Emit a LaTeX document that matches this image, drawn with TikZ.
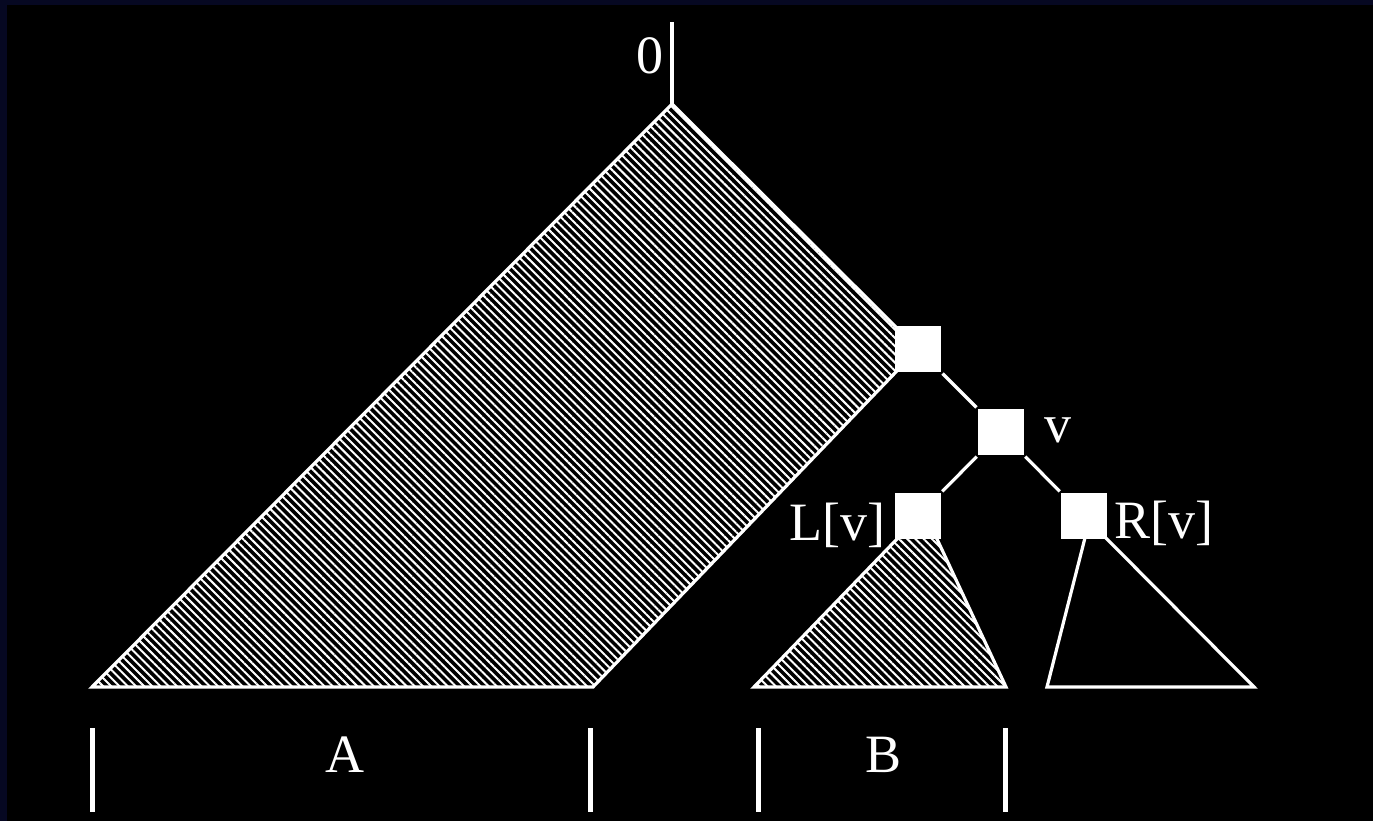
\documentclass[tikz,border=0pt]{standalone}
\usepackage{fontspec}
\setmainfont{Liberation Serif}
\usetikzlibrary{patterns.meta}
\definecolor{slideblue}{RGB}{6,8,34}
\begin{document}
\begin{tikzpicture}[x=.5pt,y=-.5pt,line width=1.6pt,color=white,
  font=\fontsize{27}{32}\selectfont,
  knot/.style={fill=white,minimum size=23pt,inner sep=0pt},
  hatch/.style={pattern={Lines[angle=-45,distance=2.9pt,line width=1pt]},
    pattern color=white}]
  % slide background with its thin blue frame.
  \fill[slideblue] (0,0) rectangle (1373,821);
  \fill[black] (7,5) rectangle (1373,821);
  \useasboundingbox (0,0) rectangle (1373,821);
  % A: big hatched part left of the search path.
  \coordinate (apex) at (672,104);
  \coordinate (pc) at (918,349);
  \path[hatch,draw=white] (apex)--(pc)--(593,687)--(92,687)--cycle;
  % B: hatched subtree under L[v], open subtree under R[v].
  \path[hatch] (905.7,530)--(754,687)--(1006,687)--(932.8,530)--cycle;
  \draw (905.7,530)--(754,687)--(1006,687)--(932.8,530);
  \draw (1087,530)--(1047,687)--(1254,687)--(1098,530);
  % root line.
  \coordinate (rootend) at (672,22);
  \draw[line width=2pt] (rootend)--(apex);
  \node[anchor=base] (zero) at (650,73) {0};
  % nodes on the path: parent, v and its two children.
  \node[knot] (p) at (pc) {};
  \node[knot] (v) at (1001,432) {};
  \node[knot] (lv) at (918,516) {};
  \node[knot] (rv) at (1084,516) {};
  \draw (p)--(v) (v)--(lv) (v)--(rv);
  \node[anchor=base] (vlab) at (1058,442) {v};
  \node[anchor=base] (lvlab) at (837,540) {L[v]};
  \node[anchor=base] (rvlab) at (1164,538) {R[v]};
  % ranges A and B below the leaves.
  \foreach \x in {92,590,758,1005}{
    \draw[line width=2.5pt] (\x,728)--(\x,812);
  }
  \node[anchor=base] (alab) at (345,772) {A};
  \node[anchor=base] (blab) at (884,772) {B};
\end{tikzpicture}
\end{document}
